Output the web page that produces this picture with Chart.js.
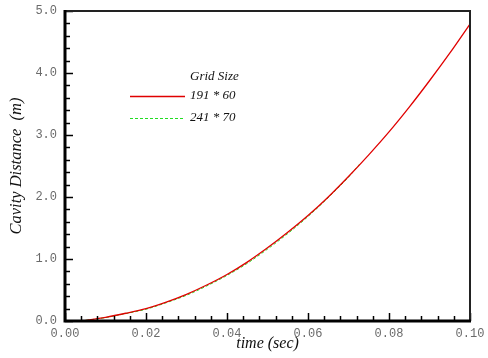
<!DOCTYPE html>
<html lang="en">
<head>
    <meta charset="UTF-8">
    <title>Cavity Distance</title>
    <script src="https://cdn.jsdelivr.net/npm/chart.js@4.4.0/dist/chart.umd.min.js"></script>
    <style>
        body { margin: 0; background: #fff; }
    </style>
</head>
<body>
    <canvas id="chart" width="488" height="358"></canvas>
    <script>

// values
const timeFine = [0.004, 0.01, 0.015, 0.02, 0.025, 0.03, 0.035, 0.04, 0.045, 0.05,
                  0.055, 0.06, 0.065, 0.07, 0.075, 0.08, 0.085, 0.09, 0.095, 0.1];
const distFine = [0.0, 0.06, 0.125, 0.20, 0.305, 0.43, 0.58, 0.75, 0.95, 1.18,
                  1.43, 1.70, 2.00, 2.33, 2.68, 3.05, 3.45, 3.875, 4.32, 4.79];

const timeCoarse = [0.004, 0.01, 0.015, 0.02, 0.025, 0.03, 0.035, 0.04, 0.045, 0.05,
                    0.055, 0.06, 0.065, 0.07, 0.073];
const distCoarse = [0.0, 0.055, 0.12, 0.19, 0.295, 0.415, 0.565, 0.735, 0.93, 1.16,
                    1.41, 1.685, 1.99, 2.32, 2.55];

const seriesNames = ['191 * 60', '241 * 70'];
const legendTitle = 'Grid Size';
const xTitle = 'time (sec)';
const yTitle = 'Cavity Distance  (m)';

function toPoints(xs, ys) {
    return xs.map((x, i) => ({ x: x, y: ys[i] }));
}

function isMultiple(v, step) {
    const r = v / step;
    return Math.abs(r - Math.round(r)) < 1e-6;
}

// inward ticks + frame
const frame = {
    id: 'frame',
    afterDatasetsDraw(chart) {
        const ctx = chart.ctx;
        const a = chart.chartArea;
        const xs = chart.scales.x, ys = chart.scales.y;
        ctx.save();
        ctx.strokeStyle = '#000';
        ctx.lineWidth = 1.5;
        xs.ticks.forEach(t => {
            const px = Math.round(xs.getPixelForValue(t.value)) + 0.5;
            const len = isMultiple(t.value, 0.02) ? 8 : 5;
            ctx.beginPath();
            ctx.moveTo(px, a.bottom);
            ctx.lineTo(px, a.bottom - len);
            ctx.stroke();
        });
        ys.ticks.forEach(t => {
            const py = Math.round(ys.getPixelForValue(t.value)) + 0.5;
            const len = isMultiple(t.value, 1) ? 8 : 5;
            ctx.beginPath();
            ctx.moveTo(a.left, py);
            ctx.lineTo(a.left + len, py);
            ctx.stroke();
        });
        // top and right
        ctx.strokeStyle = '#222';
        ctx.lineWidth = 2;
        ctx.beginPath();
        ctx.moveTo(a.left, a.top);
        ctx.lineTo(a.right, a.top);
        ctx.lineTo(a.right, a.bottom);
        ctx.stroke();
        // left and bottom, heavier
        ctx.strokeStyle = '#000';
        ctx.lineWidth = 3;
        ctx.beginPath();
        ctx.moveTo(a.left, a.top - 1);
        ctx.lineTo(a.left, a.bottom);
        ctx.lineTo(a.right + 1, a.bottom);
        ctx.stroke();
        ctx.restore();
    }
};

// legend drawn inside the plot
const insideLegend = {
    id: 'insideLegend',
    afterDatasetsDraw(chart) {
        const ctx = chart.ctx;
        ctx.save();
        ctx.font = 'italic 13px "Liberation Serif"';
        ctx.fillStyle = '#111';
        ctx.textBaseline = 'middle';
        ctx.textAlign = 'left';
        ctx.fillText(legendTitle, 190, 77);
        chart.data.datasets.forEach((ds, i) => {
            const y = 96 + i * 22;
            ctx.strokeStyle = ds.borderColor;
            ctx.lineWidth = ds.borderWidth;
            ctx.setLineDash(ds.borderDash || []);
            ctx.beginPath();
            ctx.moveTo(130, y + 0.5);
            ctx.lineTo(185, y + 0.5);
            ctx.stroke();
            ctx.setLineDash([]);
            ctx.fillText(ds.label, 190, y);
        });
        ctx.restore();
    }
};

const tickFont = { family: '"Liberation Mono", monospace', size: 12 };

new Chart(document.getElementById('chart'), {
    type: 'line',
    data: {
        datasets: [{
            label: seriesNames[0],
            data: toPoints(timeFine, distFine),
            borderColor: '#e00000',
            borderWidth: 1.3,
            pointRadius: 0,
            cubicInterpolationMode: 'monotone',
            fill: false
        }, {
            label: seriesNames[1],
            data: toPoints(timeCoarse, distCoarse),
            borderColor: '#22dd22',
            borderWidth: 1,
            borderDash: [3, 2],
            pointRadius: 0,
            cubicInterpolationMode: 'monotone',
            fill: false
        }]
    },
    options: {
        responsive: false,
        animation: false,
        devicePixelRatio: 1,
        layout: { padding: { top: 11, right: 18, left: 0, bottom: 0 } },
        plugins: { legend: { display: false }, tooltip: { enabled: false } },
        scales: {
            x: {
                type: 'linear',
                min: 0, max: 0.1,
                afterFit(s) {
                    s.height = 37;
                    s.paddingLeft = 0;
                    s.paddingRight = 0;
                },
                grid: { display: false, drawTicks: false },
                border: { display: false },
                ticks: {
                    stepSize: 0.004,
                    autoSkip: false,
                    maxRotation: 0,
                    padding: 6,
                    color: '#6a6a6a',
                    font: tickFont,
                    callback: v => isMultiple(v, 0.02) ? v.toFixed(2) : ''
                },
                title: {
                    display: true, text: xTitle, color: '#111',
                    font: { family: '"Liberation Serif", serif', style: 'italic', size: 16 },
                    padding: { top: 0, bottom: 5 }
                }
            },
            y: {
                min: 0, max: 5,
                afterFit(s) {
                    s.width = 65;
                    s.paddingTop = 0;
                    s.paddingBottom = 0;
                },
                grid: { display: false, drawTicks: false },
                border: { display: false },
                ticks: {
                    stepSize: 0.2,
                    autoSkip: false,
                    padding: 8,
                    color: '#6a6a6a',
                    font: tickFont,
                    callback: v => isMultiple(v, 1) ? v.toFixed(1) : ''
                },
                title: {
                    display: true, text: yTitle, color: '#111',
                    font: { family: '"Liberation Serif", serif', style: 'italic', size: 16.5 },
                    padding: { top: 7, bottom: 0 }
                }
            }
        }
    },
    plugins: [frame, insideLegend]
});
    </script>
</body>
</html>
